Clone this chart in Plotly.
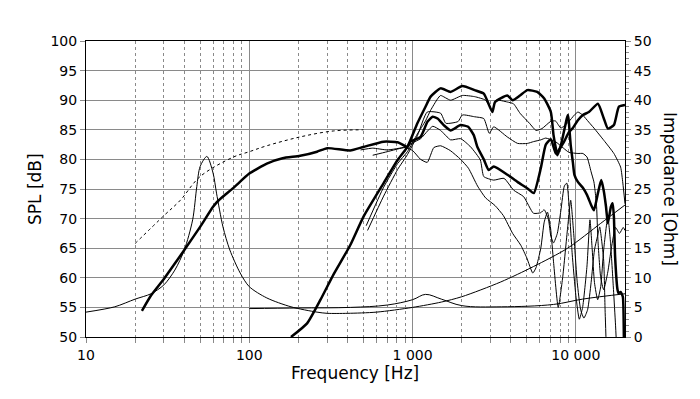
import plotly.graph_objects as go

# ---------------- data ----------------
# Woofer impedance (Ohm)
imp_w_f = [10, 15, 20, 25, 30, 35, 40, 45, 47.7, 50, 55, 60, 63, 69, 76, 88, 100, 128, 180, 260, 300, 400, 600, 1000, 1500, 2000, 3470, 5500, 8900, 14200, 20000]
imp_w_ohm = [4.2, 5.1, 6.4, 7.3, 8.8, 11.3, 14.7, 19.8, 25.4, 28.8, 30.5, 27.7, 24.3, 18.6, 14.7, 10.8, 8.5, 6.6, 5.1, 4.2, 4.0, 4.0, 4.2, 5.0, 5.9, 6.8, 9.3, 11.9, 15.0, 19.2, 22.3]

# Tweeter impedance (Ohm)
imp_t_f = [100, 200, 417, 700, 1000, 1200, 1500, 2000, 3500, 7300, 11000, 20000]
imp_t_ohm = [4.8, 4.9, 5.0, 5.4, 6.3, 7.2, 6.4, 5.3, 5.1, 5.5, 6.4, 7.3]

# Simulated response (dashed)
sim_f = [20, 30, 37.8, 50, 80, 100, 128, 205, 327, 500]
sim_db = [65.8, 70.5, 73.1, 77.1, 80.4, 81.3, 82.3, 83.8, 84.8, 85.0]

# Woofer on-axis (thick)
woof_f = [22, 25, 30, 35, 40, 50, 60, 65, 80, 100, 128, 160, 205, 260, 300, 415, 500, 665, 810, 930, 972, 1120, 1236, 1327, 1423, 1550, 1710, 1970, 2190, 2370, 2495, 2730, 2927, 3143, 3813, 4389, 5055, 5523, 6100, 6545, 7030, 7540, 7870, 8440, 9060, 9590, 10290, 11040, 12020, 13650, 14800, 15710, 17100, 18360, 20000]
woof_db = [54.4, 57.0, 59.8, 62.4, 64.7, 68.6, 72.0, 73.1, 75.2, 77.6, 79.3, 80.2, 80.6, 81.3, 81.9, 81.5, 82.1, 83.0, 82.9, 82.1, 83.0, 83.8, 86.4, 87.2, 86.9, 85.8, 84.9, 85.8, 85.5, 84.1, 82.1, 80.0, 78.2, 78.8, 77.4, 76.2, 75.1, 74.3, 78.5, 82.5, 83.4, 81.0, 81.6, 82.9, 84.6, 85.3, 86.6, 87.5, 88.0, 89.4, 87.0, 85.2, 85.8, 88.9, 89.2]

# Tweeter on-axis (thick)
tw_f = [180, 226, 273, 327, 415, 500, 665, 810, 930, 1070, 1200, 1290, 1485, 1710, 2018, 2400, 2730, 3080, 3200, 3800, 4100, 4550, 5050, 5800, 6400, 7030, 7300, 7540, 7700, 8100, 8800, 8950, 9060, 9300, 9590, 9800, 10290, 11040, 11700, 12400, 12900, 13650, 14300, 14800, 15300, 15700, 16400, 16800, 17100, 17400, 18000, 18300, 18800, 19400, 19700, 20000]
tw_db = [50.0, 52.3, 56.3, 60.5, 65.5, 70.3, 76.0, 79.9, 82.1, 86.1, 88.9, 90.6, 92.0, 91.4, 92.4, 91.7, 91.1, 88.0, 89.7, 90.8, 90.0, 90.8, 91.7, 91.4, 90.3, 88.0, 84.1, 81.9, 80.7, 82.4, 86.9, 87.5, 86.3, 82.4, 79.5, 77.4, 76.2, 75.2, 74.0, 72.3, 71.4, 74.3, 76.5, 74.8, 72.0, 69.2, 72.0, 72.6, 70.3, 63.5, 58.0, 57.4, 57.6, 56.8, 49.5, 45.0]

# Tweeter 30 deg (thin)
t30_f = [520, 665, 810, 930, 1070, 1200, 1290, 1420, 1485, 1710, 2018, 2400, 2800, 3080, 3250, 3800, 4150, 4550, 5200, 5700, 6200, 7000, 7500, 8100, 9000, 9800, 10300, 11000, 12000, 12900, 14860, 17100, 18800, 19400, 20000]
t30_db = [68.8, 75.3, 79.3, 81.3, 84.3, 86.5, 88.3, 90.2, 90.8, 90.0, 90.8, 90.6, 90.0, 88.3, 90.0, 89.7, 89.4, 87.8, 86.1, 84.9, 85.2, 86.4, 86.5, 85.3, 86.3, 87.5, 88.0, 87.5, 86.3, 85.3, 83.2, 81.0, 78.7, 76.0, 72.5]

# Tweeter 60 deg (thin)
t60_f = [530, 665, 810, 930, 1070, 1230, 1485, 1600, 1900, 2018, 2400, 2730, 2950, 3140, 3800, 4400, 5050, 5500, 6100, 6545, 7500, 8400, 9060, 10290, 11040, 11700, 12400, 12900, 13100, 13400, 13650, 14200, 14800, 15700, 16500, 17500, 18500, 19500, 20000]
t60_db = [68.0, 73.8, 78.3, 80.8, 84.0, 88.0, 87.8, 86.1, 86.4, 87.5, 87.2, 86.9, 84.4, 85.5, 83.8, 82.7, 82.7, 83.0, 83.3, 83.6, 83.0, 81.9, 81.2, 81.0, 81.0, 80.4, 77.9, 76.2, 74.8, 72.0, 66.4, 60.0, 58.0, 61.0, 65.0, 68.5, 67.5, 68.5, 68.0]

# Woofer 30 deg (thin)
w30_f = [480, 570, 700, 900, 1000, 1120, 1236, 1330, 1485, 1710, 1970, 2270, 2600, 2730, 3140, 3630, 4160, 4790, 5500, 6100, 6400, 6800, 7030, 7300, 7700, 8100, 8500, 8800, 9100, 9500, 10000, 10500, 11000, 11700, 12200, 12600, 13000, 13600, 14200, 14800, 15700, 16300, 17000, 17500, 18000]
w30_db = [81.6, 81.9, 81.6, 82.1, 82.8, 83.5, 84.8, 85.6, 84.9, 83.3, 83.5, 82.1, 79.9, 77.1, 76.5, 76.8, 74.8, 73.7, 70.9, 71.0, 71.5, 69.8, 67.0, 65.9, 67.5, 71.4, 75.5, 76.0, 72.0, 64.0, 57.0, 53.0, 55.0, 62.0, 69.8, 64.7, 59.2, 56.3, 58.5, 64.7, 70.3, 66.0, 58.0, 52.0, 45.0]

# Woofer 60 deg (thin)
w60_f = [570, 700, 900, 1000, 1120, 1230, 1350, 1485, 1700, 1970, 2200, 2500, 2800, 3200, 3600, 4100, 4600, 5000, 5450, 5700, 6100, 6400, 6700, 7000, 7300, 7800, 8300, 8900, 9300, 9700, 10200, 10700, 11200, 11800, 12400, 13000, 13700, 14000, 14800, 15100, 15500]
w60_db = [80.7, 81.3, 82.0, 81.5, 80.0, 79.5, 82.0, 82.3, 81.5, 80.0, 78.5, 75.5, 73.5, 72.2, 70.5, 67.5, 65.5, 63.4, 60.8, 61.7, 65.0, 69.4, 71.1, 68.4, 62.7, 55.0, 60.0, 68.4, 73.1, 67.5, 59.2, 54.6, 53.2, 54.6, 59.2, 64.7, 67.5, 68.6, 63.0, 54.6, 45.0]

x_tickvals = [10, 100, 1000, 10000]
x_ticktext = ["10", "100", "1 000", "10 000"]
x_minor = [20, 30, 40, 50, 60, 70, 80, 90, 200, 300, 400, 500, 600, 700, 800, 900,
           2000, 3000, 4000, 5000, 6000, 7000, 8000, 9000]

FONT = "DejaVu Sans"
GRID = "#8a8a8a"

fig = go.Figure()

def add(xs, ys, width, yaxis="y", dash="solid", shape="linear", smooth=1.0):
    line = dict(color="black", width=width, dash=dash, shape=shape)
    if shape == "spline":
        line["smoothing"] = smooth
    fig.add_trace(go.Scatter(x=xs, y=ys, mode="lines", line=line, yaxis=yaxis,
                             showlegend=False, hoverinfo="skip"))

add(imp_w_f, imp_w_ohm, 1, yaxis="y2", shape="spline", smooth=0.8)
add(imp_t_f, imp_t_ohm, 1, yaxis="y2", shape="spline", smooth=1.0)
add(sim_f, sim_db, 1, dash="3px,3px", shape="spline", smooth=1.0)
add(w60_f, w60_db, 1, shape="spline", smooth=0.5)
add(w30_f, w30_db, 1, shape="spline", smooth=0.5)
add(t60_f, t60_db, 1, shape="spline", smooth=0.5)
add(t30_f, t30_db, 1, shape="spline", smooth=0.5)
add(woof_f, woof_db, 2.5, shape="spline", smooth=0.5)
add(tw_f, tw_db, 2.5, shape="spline", smooth=0.5)

# page body has an 8px margin: figure is sized so the plot area lands at
# x 86..625, y 41..337 in the 700x399 window
fig.update_layout(
    width=692, height=391,
    margin=dict(l=78, r=75, t=33, b=62),
    paper_bgcolor="white", plot_bgcolor="white",
    font=dict(family=FONT, color="black", size=14),
    xaxis=dict(
        type="log", range=[1, 4.301],
        tickvals=x_tickvals, ticktext=x_ticktext,
        showgrid=True, gridcolor=GRID, gridwidth=1,
        showline=True, linecolor="black", linewidth=1, mirror=True,
        ticks="outside", ticklen=5, tickcolor=GRID,
        tickfont=dict(size=14, family=FONT),
        minor=dict(tickvals=x_minor, showgrid=True, gridcolor=GRID, griddash="3px,3px",
                   gridwidth=1, ticks="outside", ticklen=5, tickcolor=GRID),
        zeroline=False,
    ),
    yaxis=dict(
        range=[50, 100], dtick=5, tick0=50,
        showgrid=True, gridcolor=GRID, gridwidth=1,
        showline=True, linecolor="black", linewidth=1, mirror=True,
        ticks="outside", ticklen=5, tickcolor=GRID,
        tickfont=dict(size=14, family=FONT), zeroline=False,
    ),
    yaxis2=dict(
        range=[0, 50], dtick=5, tick0=0, overlaying="y", side="right",
        showgrid=False, showline=True, linecolor="black", linewidth=1,
        ticks="outside", ticklen=5, tickcolor=GRID,
        minor=dict(dtick=1, ticks="outside", ticklen=3, tickcolor=GRID),
        tickfont=dict(size=14, family=FONT), zeroline=False,
    ),
    annotations=[
        dict(text="SPL [dB]", x=-0.0946, y=0.5, xref="paper", yref="paper",
             textangle=-90, showarrow=False, font=dict(size=17, family=FONT),
             xanchor="center", yanchor="middle"),
        dict(text="Impedance [Ohm]", x=1.0835, y=0.5, xref="paper", yref="paper",
             textangle=90, showarrow=False, font=dict(size=17, family=FONT),
             xanchor="center", yanchor="middle"),
        dict(text="Frequency [Hz]", x=0.499, y=-0.122, xref="paper", yref="paper",
             showarrow=False, font=dict(size=17, family=FONT),
             xanchor="center", yanchor="middle"),
    ],
)

fig.write_html("out.html")
